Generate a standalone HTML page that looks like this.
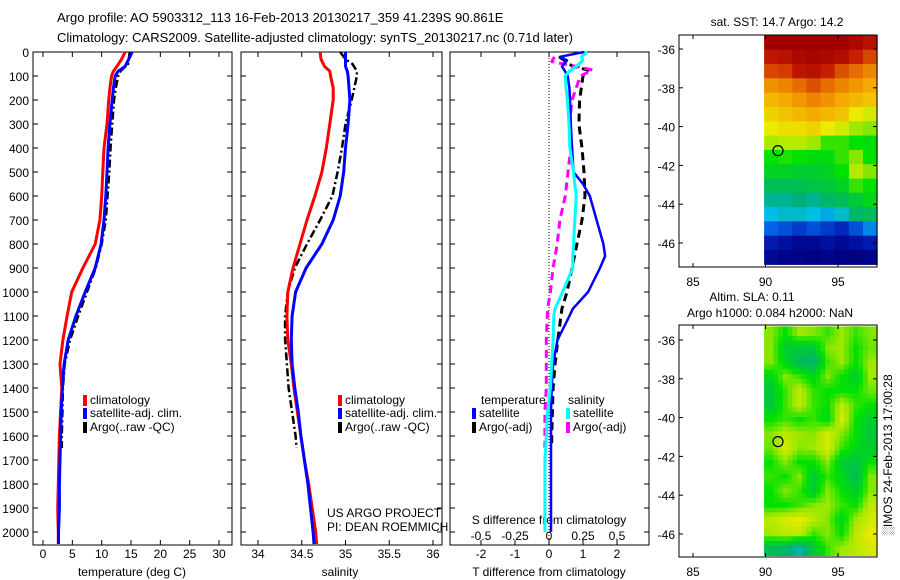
<!DOCTYPE html>
<html><head><meta charset="utf-8"><style>
body{margin:0;background:#fff;}
svg{display:block;font-family:"Liberation Sans",sans-serif;}
</style></head><body>
<svg id="fig" width="900" height="580" viewBox="0 0 900 580" xmlns="http://www.w3.org/2000/svg">
<text x="57" y="22" font-size="13">Argo profile: AO 5903312_113 16-Feb-2013 20130217_359 41.239S 90.861E</text>
<text x="57" y="42" font-size="13">Climatology: CARS2009. Satellite-adjusted climatology: synTS_20130217.nc (0.71d later)</text>
</svg>
<script>
// ---------- data ----------
const depths = [0,30,60,80,100,150,200,300,400,500,600,700,800,900,1000,1100,1200,1300,1400,1500,1600,1700,1800,1900,2000,2050];
const tempClim = [14.0,13.4,12.6,12.0,11.7,11.4,11.2,10.9,10.4,10.2,10.0,9.7,8.9,6.8,4.9,4.1,3.4,2.9,3.2,3.0,2.8,2.7,2.6,2.5,2.6,2.6];
const tempSat  = [15.2,14.6,14.0,12.8,12.3,12.0,11.8,11.4,11.1,10.9,10.7,10.4,9.9,8.9,7.2,5.6,4.3,3.6,3.3,3.1,3.0,2.9,2.8,2.8,2.65,2.65];
const argoDepths = [0,30,50,80,100,150,200,300,400,500,600,700,800,900,1000,1100,1200,1300,1400,1500,1600,1650];
const tempArgo = [14.8,14.6,14.5,13.2,12.8,12.4,12.1,11.8,11.5,11.3,11.0,10.7,10.0,9.0,7.5,6.0,4.6,3.7,3.4,3.3,3.2,3.2];
const salClim = [34.71,34.72,34.76,34.82,34.83,34.86,34.86,34.82,34.78,34.73,34.65,34.56,34.48,34.40,34.34,34.33,34.34,34.38,34.41,34.45,34.49,34.53,34.58,34.62,34.66,34.67];
const salSat  = [35.00,35.00,35.00,35.02,35.03,35.04,35.05,35.03,35.00,34.98,34.94,34.86,34.73,34.55,34.43,34.39,34.38,34.39,34.42,34.46,34.49,34.53,34.57,34.60,34.63,34.64];
const salArgo = [34.94,35.00,35.08,35.13,35.13,35.10,35.07,35.00,34.96,34.91,34.85,34.71,34.56,34.42,34.34,34.31,34.31,34.33,34.35,34.39,34.43,34.44];
const diffDepths = [0,20,35,60,80,100,150,200,300,400,500,550,600,700,800,850,900,1000,1070,1100,1200,1300,1400,1500,1600,1700,1800,1900,2000];
const dTsat = [1.03,0.32,0.53,0.38,0.47,0.55,0.6,0.62,0.64,0.68,0.72,1.0,1.2,1.4,1.6,1.65,1.5,1.15,0.7,0.6,0.25,0.12,0.08,0.06,0.06,0.06,0.06,0.06,0.06];
const dSsat = [0.28,0.24,0.25,0.2,0.15,0.12,0.125,0.135,0.147,0.154,0.18,0.19,0.2,0.19,0.18,0.175,0.175,0.1,0.044,0.035,0.03,0.02,0.01,-0.01,-0.02,-0.03,-0.03,-0.03,-0.03];
const argoDiffDepths = [20,40,60,75,100,200,300,400,500,600,700,800,900,1000,1070,1200,1300,1400,1500,1600,1650];
const dTargo = [0.3,0.5,0.7,1.15,1.0,0.9,0.88,0.97,1.03,1.06,0.97,0.82,0.68,0.53,0.38,0.26,0.18,0.12,0.1,0.08,0.08];
const dSargo = [0.04,0.02,0.2,0.32,0.23,0.17,0.15,0.16,0.14,0.12,0.08,0.06,0.03,0.01,-0.01,-0.02,-0.02,-0.02,-0.03,-0.03,-0.03];
const depthTicks = [0,100,200,300,400,500,600,700,800,900,1000,1100,1200,1300,1400,1500,1600,1700,1800,1900,2000];
const tempTicks = [0,5,10,15,20,25,30];
const salTicks = [34,34.5,35,35.5,36];
const salTickLabels = ["34","34.5","35","35.5","36"];
const tdTicks = [-2,-1,0,1,2];
const sdTickLabels = ["-0.5","-0.25","0","0.25","0.5"];
const mapLonTicks = [85,90,95];
const mapLatTicks = [-36,-38,-40,-42,-44,-46];
const sstGrid = [
[.97,.97,.97,.97,.97,.97,.95,.93],[.92,.93,.95,.96,.95,.94,.90,.86],[.86,.87,.92,.93,.90,.85,.82,.78],
[.76,.78,.82,.85,.82,.78,.75,.72],[.70,.72,.75,.78,.76,.72,.70,.68],[.66,.68,.70,.72,.70,.68,.62,.60],
[.62,.64,.64,.66,.62,.60,.56,.55],[.57,.58,.58,.56,.52,.52,.50,.49],[.50,.51,.50,.49,.49,.52,.55,.50],
[.47,.47,.46,.46,.47,.50,.58,.55],[.42,.42,.43,.44,.45,.47,.52,.50],[.36,.36,.38,.36,.40,.42,.45,.48],
[.30,.32,.32,.30,.28,.32,.40,.42],[.22,.20,.18,.20,.18,.16,.20,.25],[.14,.12,.10,.10,.12,.10,.12,.14],
[.10,.09,.09,.08,.09,.08,.08,.09]];
const slaGrid = [
[.55,.50,.56,.55,.52,.56,.52,.55],[.55,.46,.45,.45,.55,.56,.50,.54],[.55,.48,.42,.40,.52,.56,.50,.56],
[.48,.55,.52,.48,.55,.50,.46,.56],[.45,.52,.58,.52,.50,.50,.50,.54],[.45,.52,.58,.52,.50,.58,.52,.50],
[.50,.52,.50,.52,.48,.60,.50,.46],[.55,.58,.56,.55,.60,.55,.50,.45],[.54,.60,.55,.56,.60,.52,.48,.46],
[.50,.55,.50,.50,.55,.46,.44,.50],[.52,.50,.55,.46,.52,.48,.42,.55],[.50,.55,.52,.46,.55,.50,.46,.55],
[.50,.50,.52,.55,.56,.52,.50,.58],[.58,.60,.62,.58,.55,.48,.56,.60],[.56,.58,.58,.52,.55,.50,.58,.62],
[.42,.40,.34,.45,.52,.56,.58,.60]];
const argoLon = 90.861, argoLat = -41.239;
const gridLon0 = 89.9, gridLon1 = 97.7, gridLat0 = -35.3, gridLat1 = -47.1;

// ---------- scales ----------
const yD = d => 52 + d*0.24;
const xT = t => 43 + t*5.867;
const xS = s => 258 + (s-34)*87.5;
const xdT = v => 549 + v*34;
const xdS = v => 549 + v*136;
const mLon = l => 693 + (l-85)*14.5;
const m1Lat = l => 49 + (-36-l)*19.4;
const m2Lat = l => 340 + (-36-l)*19.4;

const svg = document.getElementById('fig');
const NS = 'http://www.w3.org/2000/svg';
function mk(tag, attrs, parent){const e=document.createElementNS(NS,tag);for(const k in attrs)e.setAttribute(k,attrs[k]);(parent||svg).appendChild(e);return e;}
function txt(x,y,s,anchor,size){const e=mk('text',{x:x,y:y,'font-size':size||12,'text-anchor':anchor||'start'});e.textContent=s;return e;}
const cmStops=[[0,[0,0,120]],[0.08,[0,0,130]],[0.15,[0,30,180]],[0.22,[0,100,230]],[0.3,[0,190,230]],[0.38,[0,175,120]],[0.45,[0,200,60]],[0.5,[0,225,0]],[0.56,[160,232,0]],[0.62,[235,235,0]],[0.72,[245,170,0]],[0.82,[230,110,0]],[0.9,[200,30,0]],[0.97,[160,0,0]],[1,[150,0,0]]];
function cmap(v){v=Math.max(0,Math.min(1,v));
 for(let i=1;i<cmStops.length;i++){if(v<=cmStops[i][0]){const a=cmStops[i-1],b=cmStops[i],f=(v-a[0])/(b[0]-a[0]);
  return 'rgb('+a[1].map((c,k)=>Math.round(c+(b[1][k]-c)*f)).join(',')+')';}}
 return 'rgb(150,0,0)';}

// ---------- panel frames ----------
const panels=[[33,232,'temperature-panel'],[241,442,'salinity-panel'],[450,649,'difference-panel']];
panels.forEach(p=>{
 const r=mk('rect',{x:p[0],y:52,width:p[1]-p[0],height:493,fill:'none',stroke:'#000','stroke-width':1});
 
 
 depthTicks.forEach(d=>{
  const t1=mk('line',{x1:p[0],x2:p[0]+5,y1:yD(d),y2:yD(d),stroke:'#000'});
  
  
  const t2=mk('line',{x1:p[1]-5,x2:p[1],y1:yD(d),y2:yD(d),stroke:'#000'});
  
  
 });
});
depthTicks.forEach(d=>{
 const l=txt(29,yD(d)+5,String(d),'end',12);
 
 
});
function xTicks(xs,labels,y0,y1,nm){xs.forEach((x,i)=>{
 const a=mk('line',{x1:x,x2:x,y1:y0,y2:y0+5,stroke:'#000'});
 
 
 const b=mk('line',{x1:x,x2:x,y1:y1-5,y2:y1,stroke:'#000'});
 
 
 if(labels){const l=txt(x,558,labels[i],'middle',12);
  
  }
});}
xTicks(tempTicks.map(xT),tempTicks.map(String),52,545,'temperature');
xTicks(salTicks.map(xS),salTickLabels,52,545,'salinity');
xTicks(tdTicks.map(xdT),tdTicks.map(String),52,545,'t-difference');
let t;
t=txt(132,576,'temperature (deg C)','middle',12);


t=txt(340,576,'salinity','middle',12);


t=txt(549,576,'T difference from climatology','middle',12);


t=txt(549,524,'S difference from climatology','middle',12);


tdTicks.forEach((v,i)=>{const l=txt(xdT(v),540,sdTickLabels[i],'middle',12);
 
 });
t=txt(327,517,'US ARGO PROJECT','start',12);


t=txt(327,531,'PI: DEAN ROEMMICH','start',12);


const zl=mk('line',{x1:xdT(0),x2:xdT(0),y1:52,y2:545,stroke:'#000','stroke-dasharray':'1,2'});



// ---------- profile lines ----------
function line(vals,ds,fx,color,w,dash,nm){
 const pts=vals.map((v,i)=>fx(v).toFixed(1)+','+yD(ds[i]).toFixed(1)).join(' ');
 const a={points:pts,fill:'none',stroke:color,'stroke-width':w,'stroke-linejoin':'round'};
 if(dash)a['stroke-dasharray']=dash;
 const e=mk('polyline',a);
 
 
}
line(tempArgo,argoDepths,xT,'#000',2.5,'8,3,2,3','temperature-argo-line');
line(tempClim,depths,xT,'#f00',3,null,'temperature-climatology-line');
line(tempSat,depths,xT,'#00f',3,null,'temperature-satellite-line');
line(salArgo,argoDepths,xS,'#000',2.5,'8,3,2,3','salinity-argo-line');
line(salClim,depths,xS,'#f00',3,null,'salinity-climatology-line');
line(salSat,depths,xS,'#00f',3,null,'salinity-satellite-line');
line(dTargo,argoDiffDepths,xdT,'#000',3,'8,5','t-difference-argo-line');
line(dSargo,argoDiffDepths,xdS,'#f0f',3,'8,5','s-difference-argo-line');
line(dTsat,diffDepths,xdT,'#00f',2.5,null,'t-difference-satellite-line');
line(dSsat,diffDepths,xdS,'#0ff',3,null,'s-difference-satellite-line');

// ---------- legends ----------
function legend(x,y,color,label,nm){
 const m=mk('rect',{x:x,y:y-9,width:4,height:11,fill:color});
 
 
 const l=txt(x+7,y,label,'start',12);
 
 
}
[[83,'temperature-legend'],[338,'salinity-legend']].forEach(g=>{
 legend(g[0],404,'#f00','climatology',g[1]+'-climatology');
 legend(g[0],417,'#00f','satellite-adj. clim.',g[1]+'-satellite');
 legend(g[0],431,'#000','Argo(..raw -QC)',g[1]+'-argo');
});
t=txt(481,404,'temperature','start',12);


t=txt(568,404,'salinity','start',12);


legend(472,417,'#00f','satellite','diff-legend-t-satellite');
legend(472,431,'#000','Argo(-adj)','diff-legend-t-argo');
legend(566,417,'#0ff','satellite','diff-legend-s-satellite');
legend(566,431,'#f0f','Argo(-adj)','diff-legend-s-argo');

// ---------- maps ----------
function sample(grid,r,c){ // bilinear sample at fractional cell coords
 const R=grid.length,C=grid[0].length;
 r=Math.max(0,Math.min(R-1,r));c=Math.max(0,Math.min(C-1,c));
 const r0=Math.floor(r),c0=Math.floor(c),r1=Math.min(R-1,r0+1),c1=Math.min(C-1,c0+1),fr=r-r0,fc=c-c0;
 return grid[r0][c0]*(1-fr)*(1-fc)+grid[r0][c1]*(1-fr)*fc+grid[r1][c0]*fr*(1-fc)+grid[r1][c1]*fr*fc;
}
function drawMap(grid,latF,top,bottom,nm,sub){
 const rows=grid.length,cols=grid[0].length;
 const dLon=(gridLon1-gridLon0)/(cols*sub),dLat=(gridLat0-gridLat1)/(rows*sub);
 for(let i=0;i<rows*sub;i++)for(let j=0;j<cols*sub;j++){
  const v=sub===1?grid[i][j]:sample(grid,(i+0.5)/sub-0.5,(j+0.5)/sub-0.5);
  const x0=mLon(gridLon0+j*dLon),x1=mLon(gridLon0+(j+1)*dLon);
  const y0=latF(gridLat0-i*dLat),y1=latF(gridLat0-(i+1)*dLat);
  const c=mk('rect',{x:x0.toFixed(1),y:y0.toFixed(1),width:(x1-x0+0.6).toFixed(1),height:(y1-y0+0.6).toFixed(1),fill:cmap(v)});
  
  
 }
 const f=mk('rect',{x:679,y:top,width:198,height:bottom-top,fill:'none',stroke:'#000'});
 
 
 mapLonTicks.forEach(l=>{
  const a=mk('line',{x1:mLon(l),x2:mLon(l),y1:top,y2:top+4,stroke:'#000'});
  
  
  const b=mk('line',{x1:mLon(l),x2:mLon(l),y1:bottom-4,y2:bottom,stroke:'#000'});
  
  
  const lb=txt(mLon(l),bottom+19,String(l),'middle',12);
  
  
 });
 mapLatTicks.forEach(l=>{
  const a=mk('line',{x1:679,x2:683,y1:latF(l),y2:latF(l),stroke:'#000'});
  
  
  const b=mk('line',{x1:873,x2:877,y1:latF(l),y2:latF(l),stroke:'#000'});
  
  
  const lb=txt(675,latF(l)+5,String(l),'end',12);
  
  
 });
 const c=mk('circle',{cx:mLon(argoLon),cy:latF(argoLat),r:5,fill:'none',stroke:'#000','stroke-width':1.2});
 
 
}
drawMap(sstGrid,m1Lat,35,267,'sst-map',1);
drawMap(slaGrid,m2Lat,325,557,'sla-map',3);
t=txt(777,26,'sat. SST: 14.7 Argo: 14.2','middle',12);


t=txt(752,301,'Altim. SLA: 0.11','middle',12);


t=txt(770,317,'Argo h1000: 0.084 h2000: NaN','middle',12);


t=txt(0,0,'\u2591IMOS 24-Feb-2013 17:00:28','middle',12);
t.setAttribute('transform','translate(892,455) rotate(-90)');


</script>
</body></html>
